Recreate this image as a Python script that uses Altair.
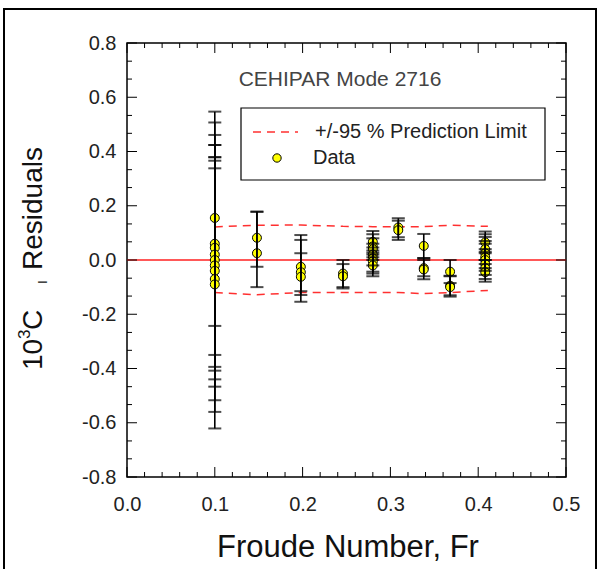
import altair as alt
import pandas as pd

# ---------------- data ----------------
fr = ([0.1] * 9 + [0.148] * 2 + [0.198] * 3 + [0.246] * 2 + [0.28] * 7 +
      [0.309] * 2 + [0.338] * 3 + [0.368] * 3 + [0.408] * 8)
resid = [0.155, 0.06, 0.045, 0.02, 0.0, -0.02, -0.04, -0.07, -0.09,
         0.082, 0.025,
         -0.025, -0.045, -0.062,
         -0.05, -0.06,
         0.067, 0.05, 0.04, 0.02, 0.006, -0.005, -0.02,
         0.12, 0.11,
         0.052, -0.03, -0.035,
         -0.043, -0.095, -0.1,
         0.065, 0.04, 0.025, 0.01, 0.0, -0.015, -0.03, -0.045]
err_lo = [-0.243, -0.35, -0.394, -0.408, -0.44, -0.467, -0.517, -0.56, -0.621,
          -0.025, -0.10,
          -0.129, -0.115, -0.154,
          -0.10, -0.105,
          0.027, 0.01, 0.0, -0.02, -0.043, -0.05, -0.06,
          0.084, 0.074,
          0.007, -0.071, -0.06,
          -0.085, -0.135, -0.13,
          0.025, 0.0, -0.015, -0.03, -0.04, -0.055, -0.07, -0.08]
err_hi = [0.547, 0.507, 0.461, 0.424, 0.379, 0.366, 0.338, 0.379, 0.424,
          0.178, 0.178,
          0.092, 0.025, 0.074,
          0.0, -0.015,
          0.107, 0.095, 0.08, 0.06, 0.046, 0.035, 0.02,
          0.154, 0.145,
          0.096, 0.0, 0.007,
          0.0, -0.06, -0.058,
          0.105, 0.095, 0.085, 0.07, 0.06, 0.04, 0.03, 0.0]

pl_fr = [0.1, 0.148, 0.198, 0.246, 0.28, 0.309, 0.338, 0.368, 0.411]
pl_upper = [0.122, 0.128, 0.129, 0.124, 0.123, 0.123, 0.123, 0.128, 0.124]
pl_lower = [-0.12, -0.128, -0.12, -0.12, -0.12, -0.12, -0.124, -0.12, -0.112]

x_major = [0.0, 0.1, 0.2, 0.3, 0.4, 0.5]
x_minor = [0.02, 0.04, 0.06, 0.08, 0.12, 0.14, 0.16, 0.18, 0.22, 0.24, 0.26, 0.28,
           0.32, 0.34, 0.36, 0.38, 0.42, 0.44, 0.46, 0.48]
y_major = [-0.8, -0.6, -0.4, -0.2, 0.0, 0.2, 0.4, 0.6, 0.8]
y_minor = [-0.733, -0.667, -0.533, -0.467, -0.333, -0.267, -0.133, -0.067,
           0.067, 0.133, 0.267, 0.333, 0.467, 0.533, 0.667, 0.733]

title_text = "CEHIPAR Mode 2716"
legend_labels = ["+/-95 % Prediction Limit", "Data"]

# ---------------- chart ----------------
W, H = 439, 434
FONT = "Liberation Sans"
TXT = "#222222"

xs = alt.Scale(domain=[0, 0.5], nice=False, zero=False)
ys = alt.Scale(domain=[-0.8, 0.8], nice=False, zero=False)

pts = pd.DataFrame({"fr": fr, "r": resid, "lo": err_lo, "hi": err_hi})
pl = pd.DataFrame({"fr": pl_fr, "up": pl_upper, "low": pl_lower})
one = pd.DataFrame({"a": [0]})

neg_label = "datum.value < 0 ? '-' + format(-datum.value, '.1f') : format(datum.value, '.1f')"

x_axis = alt.Axis(values=x_major, format=".1f", ticks=False, domain=False, grid=False,
                  labelFontSize=20, labelFont=FONT, labelColor=TXT, labelPadding=17,
                  labelFlush=False, title=None)
y_axis = alt.Axis(values=y_major, labelExpr=neg_label, ticks=False, domain=False, grid=False,
                  labelFontSize=20, labelFont=FONT, labelColor=TXT, labelPadding=11,
                  labelFlush=False, title=None)

zero = alt.Chart(pd.DataFrame({"x0": [0.0], "x1": [0.5], "y": [0.0]})).mark_rule(
    color="#ff2020", strokeWidth=1.5).encode(
    x=alt.X("x0:Q", scale=xs, axis=x_axis),
    x2="x1:Q",
    y=alt.Y("y:Q", scale=ys, axis=y_axis))

dash_up = alt.Chart(pl).mark_line(color="#ff3030", strokeWidth=1.5, strokeDash=[8, 6]).encode(
    x=alt.X("fr:Q", scale=xs), y=alt.Y("up:Q", scale=ys))
dash_lo = alt.Chart(pl).mark_line(color="#ff3030", strokeWidth=1.5, strokeDash=[8, 6]).encode(
    x=alt.X("fr:Q", scale=xs), y=alt.Y("low:Q", scale=ys))

dots = alt.Chart(pts).mark_circle(color="#ffff00", stroke="black", strokeWidth=1,
                                  size=80, opacity=1).encode(
    x=alt.X("fr:Q", scale=xs), y=alt.Y("r:Q", scale=ys))

bars = alt.Chart(pts).mark_rule(color="black", strokeWidth=1.6).encode(
    x=alt.X("fr:Q", scale=xs), y=alt.Y("lo:Q", scale=ys), y2="hi:Q")
cap_lo = alt.Chart(pts).mark_tick(color="black", orient="horizontal", size=13,
                                  thickness=2).encode(
    x=alt.X("fr:Q", scale=xs), y=alt.Y("lo:Q", scale=ys))
cap_hi = alt.Chart(pts).mark_tick(color="black", orient="horizontal", size=13,
                                  thickness=2).encode(
    x=alt.X("fr:Q", scale=xs), y=alt.Y("hi:Q", scale=ys))

# inward ticks on all four sides
def vticks(vals, length):
    d = pd.DataFrame({"v": vals})
    b = alt.Chart(d).mark_rule(color="black", strokeWidth=1).encode(
        x=alt.X("v:Q", scale=xs), y=alt.value(H), y2=alt.value(H - length))
    t = alt.Chart(d).mark_rule(color="black", strokeWidth=1).encode(
        x=alt.X("v:Q", scale=xs), y=alt.value(0), y2=alt.value(length))
    return [b, t]

def hticks(vals, length):
    d = pd.DataFrame({"v": vals})
    l = alt.Chart(d).mark_rule(color="black", strokeWidth=1).encode(
        y=alt.Y("v:Q", scale=ys), x=alt.value(0), x2=alt.value(length))
    r = alt.Chart(d).mark_rule(color="black", strokeWidth=1).encode(
        y=alt.Y("v:Q", scale=ys), x=alt.value(W), x2=alt.value(W - length))
    return [l, r]

ticks = vticks(x_major, 10) + vticks(x_minor, 5) + hticks(y_major, 10) + hticks(y_minor, 5)

# title inside plot
title = alt.Chart(one).mark_text(text=title_text, font=FONT, fontSize=21, color="#444444",
                                 align="center", baseline="middle").encode(
    x=alt.value(213), y=alt.value(37))

# legend
leg_box = alt.Chart(one).mark_rect(fill="white", stroke="black", strokeWidth=1.2).encode(
    x=alt.value(114), x2=alt.value(418), y=alt.value(65), y2=alt.value(137))
leg_line = alt.Chart(one).mark_rule(color="#ff3030", strokeWidth=1.5, strokeDash=[8, 6]).encode(
    x=alt.value(126), x2=alt.value(171), y=alt.value(89))
leg_dot = alt.Chart(one).mark_circle(color="#ffff00", stroke="black", strokeWidth=1,
                                     size=70, opacity=1).encode(
    x=alt.value(150), y=alt.value(115))
leg_t1 = alt.Chart(one).mark_text(text=legend_labels[0], font=FONT, fontSize=20, color=TXT,
                                  align="left", baseline="middle").encode(
    x=alt.value(188), y=alt.value(89))
leg_t2 = alt.Chart(one).mark_text(text=legend_labels[1], font=FONT, fontSize=20, color=TXT,
                                  align="left", baseline="middle").encode(
    x=alt.value(186), y=alt.value(115))

# axis titles
xtitle = alt.Chart(one).mark_text(text="Froude Number, Fr", font=FONT, fontSize=31,
                                  color="#111111", align="center",
                                  baseline="alphabetic").encode(
    x=alt.value(221), y=alt.value(514))
yt_10 = alt.Chart(one).mark_text(text="10", font=FONT, fontSize=28, color="#111111",
                                 align="left", baseline="alphabetic", angle=270).encode(
    x=alt.value(-85), y=alt.value(327))
yt_3 = alt.Chart(one).mark_text(text="3", font=FONT, fontSize=17, color="#111111",
                                align="left", baseline="alphabetic", angle=270).encode(
    x=alt.value(-97), y=alt.value(296))
yt_C = alt.Chart(one).mark_text(text="C", font=FONT, fontSize=28, color="#111111",
                                align="left", baseline="alphabetic", angle=270).encode(
    x=alt.value(-85), y=alt.value(287))
yt_sub = alt.Chart(one).mark_text(text="I", font=FONT, fontSize=13, color="#111111",
                                  align="left", baseline="alphabetic", angle=270).encode(
    x=alt.value(-80), y=alt.value(241))
yt2 = alt.Chart(one).mark_text(text="Residuals", font=FONT, fontSize=28, color="#111111",
                               align="left", baseline="alphabetic", angle=270).encode(
    x=alt.value(-85), y=alt.value(227))

# outer border of the figure
border = alt.Chart(one).mark_rect(fill=None, stroke="black", strokeWidth=2).encode(
    x=alt.value(-123), x2=alt.value(469), y=alt.value(-34), y2=alt.value(560))

chart = alt.layer(
    zero, dash_up, dash_lo, *ticks, dots, bars, cap_lo, cap_hi,
    title, leg_box, leg_line, leg_dot, leg_t1, leg_t2,
    xtitle, yt_10, yt_3, yt_C, yt_sub, yt2, border
).properties(
    width=W, height=H,
    autosize=alt.AutoSizeParams(type="none"),
    padding={"left": 127, "top": 43, "right": 32, "bottom": 92},
    background="white",
).configure_view(stroke="black", strokeWidth=1.5)

chart.save("out.html", embed_options={"renderer": "svg", "actions": False})
